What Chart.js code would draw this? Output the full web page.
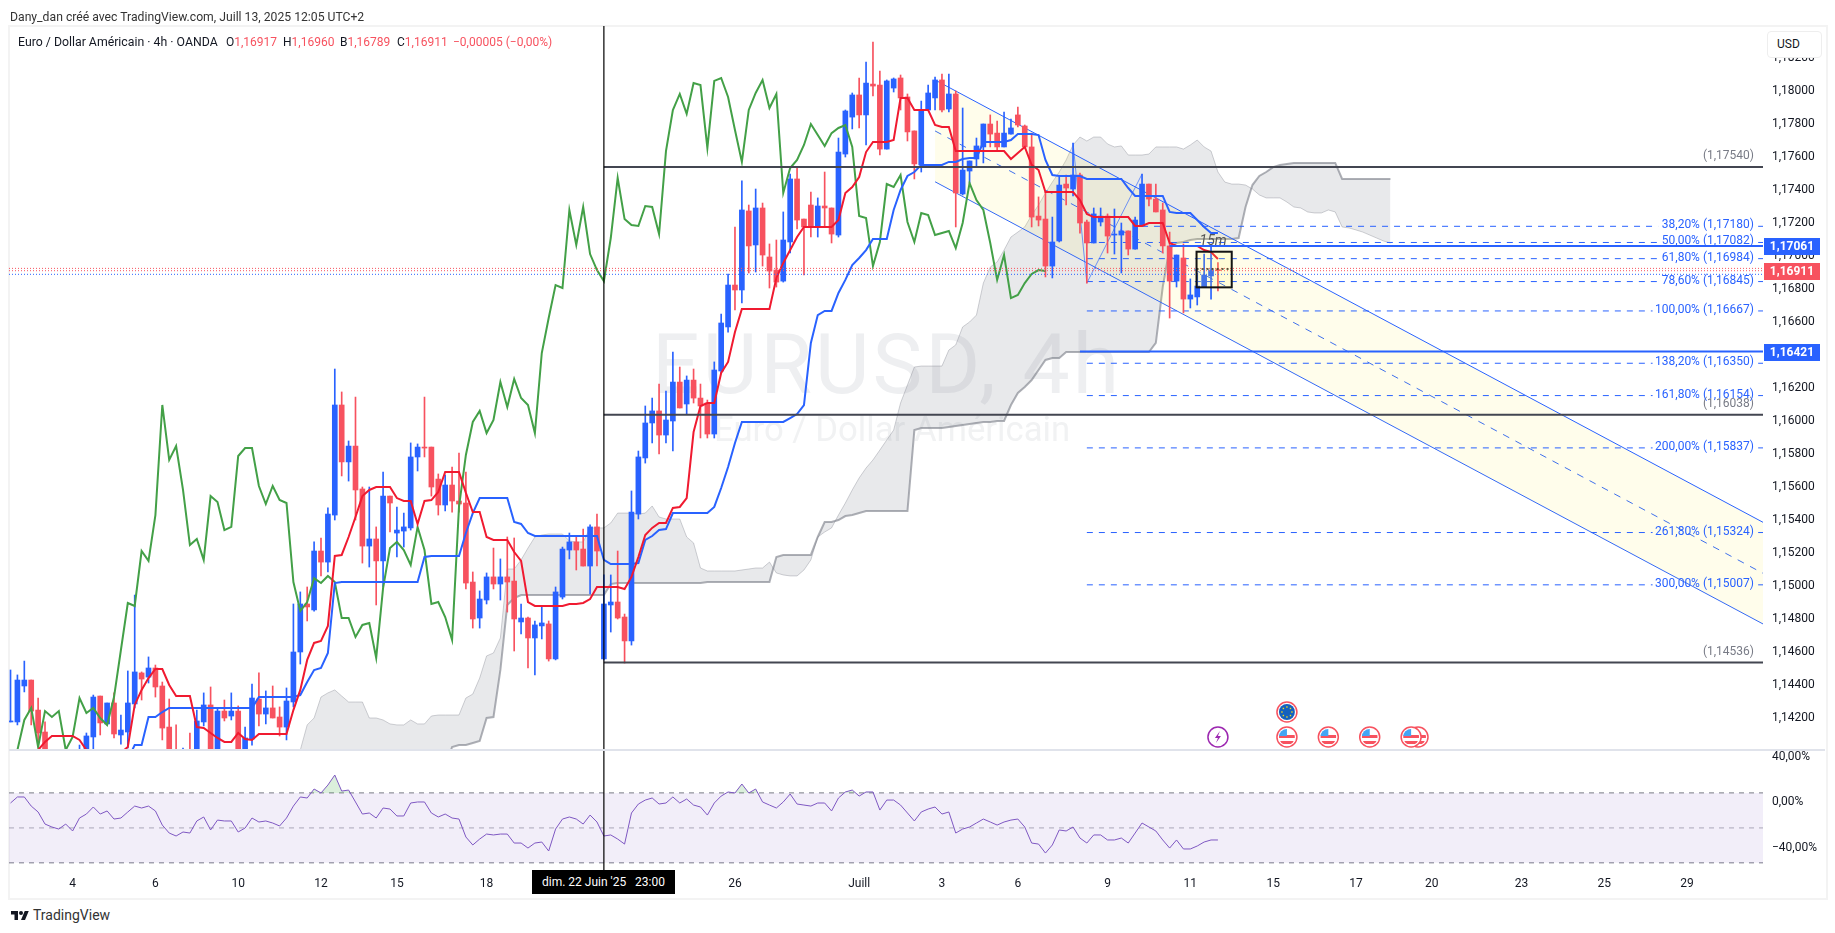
<!DOCTYPE html>
<html>
<head>
<meta charset="utf-8">
<title>EURUSD 4h</title>
<script src="https://cdn.jsdelivr.net/npm/chart.js@4"></script>
<style>
  html, body { margin: 0; padding: 0; background: #fff; width: 1835px; height: 933px; overflow: hidden; }
  body { position: relative; font-family: Roboto, sans-serif; color: #131722; font-size: 12px; }
  canvas { position: absolute; left: 0; }
  .abs { position: absolute; white-space: pre; }
  #frame { left: 8px; top: 25px; width: 1816px; height: 871px; border: 2px solid #f3f3f3; box-sizing: content-box; }
  #sep { left: 9px; top: 749px; width: 1816px; height: 1.5px; background: #e0e3eb; }
  #usd { left: 1767px; top: 31px; width: 53px; height: 25px; background: #fff; border: 1px solid #eeeeee; border-radius: 4px; line-height: 25px; text-indent: 9px; }
  .red { color: #f7525f; }
  #stamp { left: 532px; top: 870px; width: 143px; height: 24px; background: #000; color: #fff; line-height: 24px; text-align: center; }
</style>
</head>
<body>
<div class="abs" id="frame"></div>
<canvas id="main" width="1835" height="750" style="top:0"></canvas>
<canvas id="rsi" width="1835" height="147" style="top:750px"></canvas>
<div class="abs" id="sep"></div>
<div class="abs" style="left:10px;top:10px;color:#333;font-size:12.2px">Dany_dan créé avec TradingView.com, Juill 13, 2025 12:05 UTC+2</div>
<div class="abs" style="left:18px;top:35px;font-size:12.3px">Euro / Dollar Américain · 4h · OANDA</div>
<div class="abs" style="left:226px;top:35px">O<span class="red">1,16917</span></div>
<div class="abs" style="left:283px;top:35px">H<span class="red">1,16960</span></div>
<div class="abs" style="left:340px;top:35px">B<span class="red">1,16789</span></div>
<div class="abs" style="left:397px;top:35px">C<span class="red">1,16911</span></div>
<div class="abs red" style="left:453px;top:35px">−0,00005 (−0,00%)</div>
<div class="abs" id="usd">USD</div>
<div class="abs" id="stamp">dim. 22 Juin '25   23:00</div>
<svg class="abs" style="left:10px;top:909px" width="20" height="14" viewBox="0 0 36 28"><path d="M14 22H7V11H0V4h14v18zM28 22h-8l7.5-18h8L28 22z" fill="#131722"/><circle cx="20" cy="8" r="4" fill="#131722"/></svg>
<div class="abs" style="left:33px;top:907px;font-size:14px;color:#333">TradingView</div>

<script>
// candles, one per 4h bar, 10 per row. blue = up, red = down
const opens = [
  1.14176,1.14176,1.14394,1.14430,1.14248,1.14115,null,null,null,null,
  1.13900,1.13976,1.14085,1.14333,1.14164,1.14291,1.14097,1.14115,1.14285,1.14473,
  1.14448,1.14503,1.14394,1.14145,1.13980,1.13900,1.13980,1.13976,1.14176,1.14279,
  1.13976,1.14242,1.14212,1.14242,1.13976,1.14073,1.14315,1.14224,1.14261,1.14206,
  1.14145,1.14297,1.14600,1.14891,1.14855,1.15212,1.15145,1.15430,1.16097,1.15752,
  1.15848,1.15588,1.15242,1.15285,1.15152,1.15545,1.15321,1.15333,1.15352,1.15782,
  1.15842,1.15842,1.15648,1.15491,1.15612,1.15515,1.15503,1.15024,1.14806,1.14915,
  1.15055,1.15012,1.15055,1.15030,1.14782,1.14806,1.14685,1.14758,1.14770,1.14558,
  1.14933,1.15218,1.15267,1.15224,1.15121,1.15358,1.14558,1.14885,1.14903,1.14812,
  1.14667,1.15436,1.15776,1.15988,1.16061,1.15915,1.16000,1.16236,1.16103,1.16248,
  1.16139,1.16109,1.15921,1.16303,1.16570,1.16824,1.16794,1.17273,1.17067,1.17291,
  1.16994,1.16915,1.16848,1.17085,1.17467,1.17224,1.17309,1.17176,1.17303,1.17291,
  1.17127,1.17618,1.17842,1.17976,1.17855,1.18042,1.18036,1.17648,1.18018,1.18079,
  1.17964,1.17758,1.17552,1.17885,1.17958,1.18067,1.17891,1.17982,1.17376,1.17515,
  1.17588,1.17661,1.17800,1.17745,1.17661,1.17739,1.17855,1.17788,1.17661,1.17242,
  1.17224,1.16939,1.17091,1.17436,1.17406,1.17491,1.17206,1.17079,1.17206,1.17242,
  1.17127,1.17127,1.17152,1.17042,1.17182,1.17436,1.17345,1.17279,1.17061,1.16848,
  1.16988,1.16739,1.16752,1.16812,1.16879,1.16917
];
const highs = [
  1.14491,1.14461,1.14545,1.14430,1.14321,1.14176,null,null,null,null,
  1.14036,1.14109,1.14339,1.14333,1.14291,1.14352,1.14218,1.14485,1.14945,1.14479,
  1.14570,1.14521,1.14418,1.14315,1.14158,1.14018,1.14109,1.14248,1.14352,1.14388,
  1.14261,1.14309,1.14352,1.14273,1.14145,1.14406,1.14473,1.14364,1.14394,1.14267,
  1.14382,1.14891,1.14964,1.14994,1.15267,1.15291,1.15473,1.16315,1.16176,1.15879,
  1.16145,1.15600,1.15600,1.15358,1.15691,1.15545,1.15479,1.15442,1.15867,1.15861,
  1.16145,1.15842,1.15679,1.15673,1.15721,1.15806,1.15691,1.15085,1.14970,1.15079,
  1.15230,1.15164,1.15297,1.15291,1.14891,1.14812,1.14788,1.14873,1.14788,1.14994,
  1.15236,1.15321,1.15297,1.15345,1.15370,1.15436,1.15067,1.15067,1.15212,1.14830,
  1.15576,1.15818,1.16091,1.16139,1.16224,1.16182,1.16418,1.16327,1.16273,1.16315,
  1.16224,1.16127,1.16358,1.16648,1.16891,1.17176,1.17455,1.17309,1.17406,1.17321,
  1.17073,1.17097,1.17267,1.17497,1.17539,1.17224,1.17388,1.17352,1.17509,1.17291,
  1.17715,1.17885,1.17988,1.18079,1.18176,1.18297,1.18121,1.18067,1.18079,1.18097,
  1.17982,1.17758,1.17939,1.18036,1.18085,1.18103,1.18103,1.18000,1.17897,1.17576,
  1.17715,1.17800,1.17855,1.17818,1.17873,1.17830,1.17903,1.17794,1.17745,1.17358,
  1.17388,1.17236,1.17479,1.17491,1.17685,1.17503,1.17218,1.17291,1.17291,1.17255,
  1.17285,1.17200,1.17152,1.17236,1.17497,1.17436,1.17436,1.17321,1.17145,1.17006,
  1.17073,1.16861,1.16897,1.17012,1.17073,1.16960
];
const lows = [
  1.14176,1.14158,1.14358,1.14158,1.14024,1.13945,null,null,null,null,
  1.13850,1.13945,1.14006,1.14097,1.14158,1.14079,1.14042,1.14018,1.14261,1.14309,
  1.14412,1.14327,1.14067,1.13900,1.13850,1.13850,1.13850,1.13900,1.14152,1.13900,
  1.13900,1.14182,1.14188,1.13900,1.13900,1.14036,1.14152,1.14164,1.14200,1.14091,
  1.14067,1.14267,1.14527,1.14788,1.14848,1.15061,1.15085,1.15400,1.15667,1.15636,
  1.15400,1.15139,1.15115,1.14885,1.14994,1.15327,1.15176,1.15236,1.15339,1.15697,
  1.15782,1.15545,1.15430,1.15455,1.15448,1.15448,1.14982,1.14745,1.14745,1.14891,
  1.14982,1.14915,1.14842,1.14606,1.14709,1.14503,1.14461,1.14679,1.14545,1.14552,
  1.14921,1.15164,1.15097,1.15121,1.14952,1.15121,1.14552,1.14721,1.14800,1.14533,
  1.14642,1.15406,1.15745,1.15867,1.15800,1.15867,1.15818,1.16079,1.16042,1.16109,
  1.15897,1.15897,1.15897,1.16291,1.16539,1.16673,1.16715,1.16897,1.16903,1.16939,
  1.16806,1.16812,1.16842,1.17018,1.17164,1.16885,1.17115,1.17115,1.17176,1.17079,
  1.17115,1.17600,1.17770,1.17776,1.17673,1.17970,1.17612,1.17648,1.17994,1.17885,
  1.17697,1.17467,1.17509,1.17885,1.17885,1.17873,1.17873,1.17176,1.17370,1.17442,
  1.17539,1.17564,1.17661,1.17642,1.17661,1.17739,1.17782,1.17661,1.17176,1.17182,
  1.16873,1.16867,1.17085,1.17309,1.17364,1.17139,1.16836,1.17079,1.17182,1.17018,
  1.17012,1.16897,1.17006,1.17042,1.17182,1.17303,1.17267,1.17018,1.16624,1.16812,
  1.16655,1.16685,1.16703,1.16812,1.16739,1.16789
];
const closes = [
  1.14182,1.14430,1.14430,1.14242,1.14109,1.13976,null,null,null,null,
  1.13960,1.14091,1.14327,1.14170,1.14291,1.14103,1.14127,1.14291,1.14479,1.14436,
  1.14503,1.14388,1.14139,1.13976,1.13900,1.13960,1.13900,1.14182,1.14279,1.13976,
  1.14242,1.14200,1.14242,1.13976,1.14079,1.14321,1.14224,1.14261,1.14200,1.14145,
  1.14303,1.14600,1.14891,1.14873,1.15212,1.15145,1.15436,1.16097,1.15752,1.15848,
  1.15582,1.15242,1.15285,1.15152,1.15545,1.15503,1.15339,1.15358,1.15782,1.15842,
  1.15836,1.15600,1.15491,1.15612,1.15515,1.15497,1.15018,1.14800,1.14921,1.15055,
  1.15012,1.15055,1.15024,1.14800,1.14806,1.14685,1.14764,1.14776,1.14558,1.14964,
  1.15224,1.15267,1.15218,1.15121,1.15358,1.15212,1.14891,1.14903,1.14806,1.14667,
  1.15448,1.15782,1.15988,1.16061,1.15915,1.16006,1.16236,1.16079,1.16248,1.16139,
  1.16091,1.15921,1.16309,1.16594,1.16824,1.16794,1.17279,1.17061,1.17291,1.17006,
  1.16909,1.16842,1.17097,1.17467,1.17218,1.17176,1.17176,1.17303,1.17291,1.17133,
  1.17630,1.17879,1.17976,1.17855,1.18048,1.18030,1.17648,1.18061,1.18073,1.17958,
  1.17752,1.17558,1.17885,1.17988,1.18067,1.17885,1.17982,1.17382,1.17521,1.17576,
  1.17667,1.17800,1.17739,1.17661,1.17745,1.17776,1.17794,1.17661,1.17236,1.17218,
  1.16939,1.17085,1.17430,1.17412,1.17491,1.17200,1.17079,1.17255,1.17242,1.17121,
  1.17133,1.17152,1.17042,1.17218,1.17436,1.17345,1.17267,1.17061,1.16848,1.17006,
  1.16739,1.16764,1.16818,1.16885,1.16915,1.16911
];

// ichimoku lines
const tenkan = [
  null,null,null,null,1.14006,1.14055,1.14091,1.14091,1.14091,1.14091,
  1.14067,1.14006,1.13900,1.13900,1.13900,1.13900,1.13990,1.14024,1.14279,1.14370,
  1.14442,1.14497,1.14497,1.14400,1.14333,1.14333,1.14333,1.14145,1.14139,1.14109,
  1.14079,1.14055,1.14055,1.14109,1.14073,1.14067,1.14103,1.14103,1.14103,1.14103,
  1.14103,1.14248,1.14370,1.14552,1.14655,1.14667,1.14758,1.15182,1.15188,1.15297,
  1.15418,1.15545,1.15582,1.15600,1.15600,1.15600,1.15533,1.15515,1.15515,1.15376,
  1.15515,1.15521,1.15570,1.15691,1.15691,1.15691,1.15564,1.15448,1.15448,1.15297,
  1.15279,1.15279,1.15279,1.15206,1.15152,1.14903,1.14879,1.14879,1.14879,1.14879,
  1.14879,1.14891,1.14891,1.14897,1.14921,1.14994,1.14994,1.14994,1.14994,1.14982,
  1.15055,1.15176,1.15309,1.15352,1.15382,1.15382,1.15473,1.15479,1.15533,1.15933,
  1.16091,1.16109,1.16109,1.16291,1.16358,1.16539,1.16679,1.16679,1.16679,1.16679,
  1.16679,1.16867,1.16958,1.17036,1.17115,1.17176,1.17176,1.17176,1.17176,1.17176,
  1.17218,1.17382,1.17418,1.17479,1.17630,1.17691,1.17691,1.17691,1.17703,1.17958,
  1.17958,1.17885,1.17885,1.17885,1.17794,1.17782,1.17782,1.17636,1.17636,1.17636,
  1.17636,1.17636,1.17636,1.17636,1.17636,1.17588,1.17624,1.17661,1.17552,1.17521,
  1.17388,1.17388,1.17388,1.17388,1.17388,1.17339,1.17255,1.17236,1.17236,1.17236,
  1.17236,1.17236,1.17236,1.17182,1.17182,1.17200,1.17200,1.17200,1.17079,1.17061,
  1.17061,1.17061,1.17061,1.17036,1.17024,1.16982
];
const kijun = [
  null,null,null,null,null,null,null,null,null,null,
  null,null,null,null,null,null,null,1.13950,1.14036,1.14036,
  1.14206,1.14206,1.14236,1.14261,1.14261,1.14261,1.14261,1.14261,1.14261,1.14261,
  1.14261,1.14261,1.14261,1.14261,1.14261,1.14261,1.14327,1.14327,1.14327,1.14327,
  1.14327,1.14327,1.14339,1.14418,1.14491,1.14503,1.14594,1.15018,1.15024,1.15024,
  1.15024,1.15024,1.15024,1.15024,1.15024,1.15024,1.15024,1.15024,1.15024,1.15024,
  1.15176,1.15182,1.15182,1.15182,1.15182,1.15182,1.15321,1.15442,1.15533,1.15533,
  1.15533,1.15533,1.15533,1.15388,1.15376,1.15321,1.15303,1.15303,1.15303,1.15303,
  1.15303,1.15303,1.15303,1.15303,1.15303,1.15303,1.15158,1.15133,1.15133,1.15133,
  1.15133,1.15139,1.15279,1.15303,1.15339,1.15345,1.15442,1.15442,1.15442,1.15442,
  1.15442,1.15442,1.15479,1.15594,1.15721,1.15867,1.15994,1.15994,1.15994,1.15994,
  1.15994,1.15994,1.15994,1.16018,1.16042,1.16097,1.16473,1.16642,1.16667,1.16667,
  1.16776,1.16855,1.16945,1.16988,1.17036,1.17103,1.17103,1.17103,1.17279,1.17400,
  1.17485,1.17509,1.17552,1.17552,1.17552,1.17552,1.17570,1.17570,1.17588,1.17594,
  1.17594,1.17691,1.17691,1.17691,1.17691,1.17703,1.17739,1.17739,1.17739,1.17733,
  1.17582,1.17491,1.17485,1.17485,1.17485,1.17485,1.17467,1.17467,1.17467,1.17467,
  1.17467,1.17467,1.17412,1.17364,1.17364,1.17364,1.17364,1.17364,1.17267,1.17261,
  1.17261,1.17261,1.17218,1.17176,1.17139,1.17139
];
const chikou = [
  null,1.14006,1.14188,1.14261,1.14024,1.14242,1.14206,1.14242,1.14006,1.14085,
  1.14321,1.14230,1.14261,1.14200,1.14158,1.14327,1.14612,1.14897,1.14879,1.15212,
  1.15152,1.15430,1.16097,1.15764,1.15848,1.15582,1.15248,1.15285,1.15158,1.15545,
  1.15509,1.15339,1.15358,1.15788,1.15836,1.15836,1.15606,1.15497,1.15606,1.15521,
  1.15503,1.15024,1.14848,1.14903,1.15048,1.15018,1.15061,1.15024,1.14806,1.14806,
  1.14691,1.14764,1.14776,1.14564,1.14988,1.15230,1.15267,1.15218,1.15127,1.15358,
  1.15218,1.14891,1.14903,1.14812,1.14673,1.15479,1.15794,1.15994,1.16061,1.15927,
  1.16006,1.16236,1.16085,1.16255,1.16139,1.16097,1.15927,1.16412,1.16624,1.16824,
  1.16806,1.17279,1.17067,1.17297,1.17012,1.16915,1.16848,1.17109,1.17473,1.17224,
  1.17188,1.17182,1.17303,1.17297,1.17133,1.17636,1.17885,1.17982,1.17861,1.18048,
  1.18036,1.17655,1.18061,1.18079,1.17964,1.17764,1.17570,1.17885,1.17988,1.18067,
  1.17897,1.17982,1.17382,1.17533,1.17582,1.17673,1.17800,1.17733,1.17667,1.17745,
  1.17776,1.17794,1.17661,1.17242,1.17230,1.16939,1.17085,1.17436,1.17418,1.17491,
  1.17206,1.17085,1.17261,1.17248,1.17127,1.17139,1.17152,1.17048,1.17200,1.17442,
  1.17339,1.17279,1.17079,1.16855,1.17006,1.16745,1.16764,1.16836,1.16891,1.16915,1.16909
];

// the cloud starts at bar 42 and runs past the last candle
const senkouStart = 42;
const senkouA = [
  1.14006,1.14158,1.14200,1.14327,1.14352,1.14370,1.14333,1.14297,
  1.14297,1.14297,1.14200,1.14200,1.14188,1.14164,1.14158,1.14158,1.14188,1.14164,
  1.14164,1.14212,1.14218,1.14218,1.14218,1.14218,1.14321,1.14345,1.14442,1.14576,
  1.14594,1.14685,1.15103,1.15103,1.15158,1.15230,1.15297,1.15309,1.15315,1.15315,
  1.15315,1.15273,1.15267,1.15267,1.15352,1.15352,1.15352,1.15382,1.15442,1.15442,
  1.15442,1.15436,1.15442,1.15485,1.15418,1.15406,1.15406,1.15406,1.15297,1.15261,
  1.15109,1.15091,1.15091,1.15091,1.15091,1.15091,1.15097,1.15103,1.15109,1.15109,
  1.15145,1.15079,1.15067,1.15061,1.15061,1.15097,1.15158,1.15297,1.15327,1.15352,
  1.15430,1.15503,1.15582,1.15655,1.15715,1.15764,1.15824,1.15885,1.15945,1.16109,
  1.16218,1.16327,1.16333,1.16333,1.16333,1.16333,1.16430,1.16461,1.16570,1.16600,
  1.16642,1.16836,1.16933,1.16964,1.17036,1.17115,1.17145,1.17176,1.17248,1.17309,
  1.17382,1.17448,1.17509,1.17582,1.17673,1.17721,1.17697,1.17721,1.17721,1.17679,
  1.17661,1.17667,1.17612,1.17612,1.17612,1.17618,1.17661,1.17661,1.17661,1.17661,
  1.17648,1.17673,1.17703,1.17661,1.17636,1.17509,1.17448,1.17436,1.17436,1.17430,
  1.17406,1.17370,1.17352,1.17352,1.17352,1.17327,1.17297,1.17291,1.17267,1.17261,
  1.17261,1.17279,1.17267,1.17176,1.17170,1.17158,1.17145,1.17127,1.17109,1.17091,1.17079
];
const senkouB = [
  1.13900,1.13900,1.13900,1.13900,1.13900,1.13900,1.13900,1.13900,
  1.13900,1.13900,1.13900,1.13900,1.13900,1.13900,1.13900,1.13900,1.13900,1.13900,
  1.13900,1.13900,1.13900,1.13900,1.14024,1.14036,1.14036,1.14048,1.14061,1.14200,
  1.14206,1.14491,1.14885,1.14927,1.14945,1.14945,1.14945,1.14945,1.14945,1.14945,
  1.14945,1.14945,1.14945,1.14945,1.14945,1.14945,1.14945,1.15012,1.15018,1.15018,
  1.15018,1.15018,1.15018,1.15018,1.15018,1.15018,1.15018,1.15018,1.15018,1.15018,
  1.15018,1.15024,1.15024,1.15024,1.15024,1.15024,1.15024,1.15024,1.15024,1.15024,
  1.15024,1.15176,1.15188,1.15188,1.15188,1.15188,1.15188,1.15297,1.15388,1.15388,
  1.15400,1.15424,1.15430,1.15442,1.15455,1.15455,1.15455,1.15455,1.15455,1.15455,
  1.15455,1.15945,1.15958,1.15958,1.15958,1.15958,1.15964,1.15970,1.15976,1.15982,
  1.15988,1.15994,1.15994,1.16000,1.16000,1.16097,1.16170,1.16206,1.16248,1.16309,
  1.16370,1.16382,1.16382,1.16418,1.16418,1.16418,1.16418,1.16418,1.16418,1.16418,
  1.16418,1.16418,1.16418,1.16418,1.16418,1.16418,1.16473,1.16812,1.17048,1.17079,
  1.17085,1.17097,1.17103,1.17103,1.17103,1.17103,1.17103,1.17103,1.17109,1.17297,
  1.17430,1.17485,1.17509,1.17539,1.17552,1.17558,1.17564,1.17564,1.17564,1.17564,
  1.17564,1.17564,1.17564,1.17467,1.17467,1.17467,1.17467,1.17467,1.17467,1.17467,1.17467
];

// lower pane oscillator
const rsiValues = [
  -0.6,4.7,4.7,-3.3,-8.5,-19.1,-21.7,-23.5,-19.1,-25.2,
  -13.8,-10.3,-4.1,-10.3,-7.6,-14.7,-13.8,-8.5,-3.3,-5.0,
  -3.3,-7.6,-20.0,-27.0,-29.6,-26.1,-27.0,-16.4,-12.9,-24.3,
  -15.6,-16.4,-16.4,-26.1,-22.6,-13.8,-17.3,-16.4,-18.2,-20.8,
  -13.8,-3.3,4.7,3.8,11.7,8.2,15.2,24.0,9.9,10.8,
  0.3,-10.3,-9.4,-13.8,-5.0,-5.9,-12.0,-12.0,-0.6,0.3,
  0.3,-9.4,-12.9,-10.3,-13.8,-14.7,-30.5,-37.5,-32.3,-27.9,
  -28.7,-27.9,-27.9,-35.8,-35.8,-40.2,-35.8,-34.9,-42.8,-23.5,
  -14.7,-12.9,-14.7,-19.1,-11.2,-17.3,-29.6,-28.7,-32.3,-36.7,
  -9.4,-1.5,2.0,3.8,-1.5,-0.6,4.7,-0.6,2.9,-2.4,
  -4.1,-11.2,-0.6,5.5,9.1,8.2,16.1,8.2,11.7,0.3,
  -2.4,-5.0,0.3,7.3,-1.5,-2.4,-3.3,-0.6,-0.6,-7.6,
  3.8,9.1,10.8,5.5,9.1,9.1,-6.8,2.0,2.0,-2.4,
  -9.4,-16.4,-8.5,-5.9,-4.1,-10.3,-8.5,-27.0,-23.5,-21.7,
  -18.2,-14.7,-17.3,-20.0,-17.3,-15.6,-14.7,-21.7,-35.8,-36.7,
  -44.6,-37.5,-24.3,-25.2,-21.7,-31.4,-35.8,-28.7,-28.7,-33.1,
  -33.1,-31.4,-35.8,-27.0,-18.2,-21.7,-25.2,-33.1,-40.2,-33.1,
  -41.0,-41.0,-38.4,-34.9,-33.1,-33.1
];
const rsiBands = [8.3, -22.5, -53.2];

// axes
const xMin = -0.22, xMax = 254;
const priceMin = 1.14006, priceMax = 1.18394;
const rsiMin = -59.5, rsiMax = 46;
const priceTicks = [1.142,1.144,1.146,1.148,1.15,1.152,1.154,1.156,1.158,1.16,1.162,1.164,1.166,1.168,1.17,1.172,1.174,1.176,1.178,1.18,1.182];
const rsiTicks = [40, 0, -40];
const timeTickBars = [9,21,33,45,56,69,105,123,135,146,159,171,183,195,206,219,231,243];
const timeTickLabels = ['4','6','10','12','15','18','26','Juill','3','6','9','11','15','17','20','23','25','29'];
const crosshairBar = 86;

// horizontal levels and drawings
const blackLevels = [1.1754, 1.16038, 1.14536];
const blackLabels = ['(1,17540)', '(1,16038)', '(1,14536)'];
const blueLevels = [1.17061, 1.16421];
const blueLevelStart = [168, 155];
const quoteLines = [1.16925, 1.16911, 1.16889];
const quoteColors = ['#f7525f', '#f7525f', '#2962ff'];
const fibLevels = [1.1718,1.17082,1.16984,1.16845,1.16667,1.1635,1.16154,1.15837,1.15324,1.15007];
const fibLabels = ['38,20% (1,17180)','50,00% (1,17082)','61,80% (1,16984)','78,60% (1,16845)','100,00% (1,16667)','138,20% (1,16350)','161,80% (1,16154)','200,00% (1,15837)','261,80% (1,15324)','300,00% (1,15007)'];
const fibStart = [164,156,156,156,156,156,156,156,156,156];
const fibGapFrom = [238.8,238.8,238.8,238.8,238,238,238,238,238,238];
const fibGapTo = 253.3;
const channelBars = [134, 254];
const channelUpper = [1.18067, 1.15386];
const channelMiddle = [1.17758, 1.15077];
const channelLower = [1.1745, 1.1477];
const zigzagBars = [154, 156, 164];
const zigzagPrices = [1.17685, 1.16836, 1.17497];
const boxBars = [171.9, 177];
const boxPrices = [1.17026, 1.1681];
const boxDotted = 1.16921;
const eventBars = [175, 185, 185, 191, 197, 204, 203];
const eventKinds = ['flash', 'eu', 'us', 'us', 'us', 'us', 'us'];
const eventRows = [0, 1, 0, 0, 0, 0, 0];

const BLUE = '#2962ff', RED = '#f7525f';
const fmt = v => v.toFixed(5).replace('.', ',');
const candleBars = opens.map((o, i) => i).filter(i => opens[i] !== null);
const candleColors = candleBars.map(i => closes[i] >= opens[i] ? BLUE : RED);
const toPoints = (vals, start = 0) => vals.map((y, i) => ({ x: i + start, y }));
const lineDs = (data, color, width, order, extra = {}) => Object.assign({
  type: 'line', data, borderColor: color, borderWidth: width, order,
  pointRadius: 0, tension: 0, fill: false, spanGaps: false
}, extra);
const span = (from, to, y) => [{ x: from, y }, { x: to, y }];
// no room reserved for half a tick label above and below the pane
const fitY = s => { s.width = 72; s.paddingTop = 0; s.paddingBottom = 0; };

const wmPlugin = {
  id: 'watermark',
  beforeDatasetsDraw(c) {
    const g = c.ctx;
    g.save();
    g.textBaseline = 'alphabetic';
    g.textAlign = 'left';
    g.fillStyle = '#eeeff1';
    g.font = '84px Roboto, sans-serif';
    g.letterSpacing = '3px';
    g.fillText('EURUSD, 4h', 652, 393);
    g.letterSpacing = '0px';
    g.fillStyle = '#f1f2f3';
    g.font = '34.7px Roboto, sans-serif';
    g.fillText('Euro / Dollar Américain', 714, 441);
    g.restore();
  }
};

function drawEvent(g, x, y, kind) {
  const ring = kind === 'flash' ? '#9c27b0' : '#f7525f';
  g.save();
  g.beginPath(); g.arc(x, y, 10, 0, Math.PI * 2);
  g.fillStyle = '#fff'; g.fill();
  g.lineWidth = 1.5; g.strokeStyle = ring; g.stroke();
  if (kind === 'flash') {
    g.fillStyle = ring;
    g.beginPath();
    g.moveTo(x + 2, y - 6); g.lineTo(x - 3, y + 1); g.lineTo(x, y + 1);
    g.lineTo(x - 2, y + 6); g.lineTo(x + 3, y - 1); g.lineTo(x, y - 1);
    g.closePath(); g.fill();
  } else {
    g.beginPath(); g.arc(x, y, 8, 0, Math.PI * 2); g.clip();
    if (kind === 'eu') {
      g.fillStyle = '#1560bd'; g.fillRect(x - 8, y - 8, 16, 16);
      g.fillStyle = '#f7d917';
      for (let a = 0; a < 8; a++) {
        g.fillRect(x + 5 * Math.cos(a * Math.PI / 4) - 0.7, y + 5 * Math.sin(a * Math.PI / 4) - 0.7, 1.4, 1.4);
      }
    } else {
      g.fillStyle = '#f7525f';
      g.fillRect(x - 8, y - 2, 16, 3);
      g.fillRect(x - 8, y + 4, 16, 3);
      g.fillStyle = '#42a5f5';
      g.fillRect(x - 8, y - 8, 8, 7);
    }
  }
  g.restore();
}

const mainOverlay = {
  id: 'mainOverlay',
  afterDatasetsDraw(c) {
    const g = c.ctx, xs = c.scales.x, ys = c.scales.y;
    // box around the last candles
    const bx = xs.getPixelForValue(boxBars[0]), bx2 = xs.getPixelForValue(boxBars[1]);
    const by = ys.getPixelForValue(boxPrices[0]), by2 = ys.getPixelForValue(boxPrices[1]);
    g.save();
    g.fillStyle = 'rgba(255,235,59,0.12)';
    g.fillRect(bx, by, bx2 - bx, by2 - by);
    g.lineWidth = 2; g.strokeStyle = '#131313';
    g.strokeRect(bx, by, bx2 - bx, by2 - by);
    g.font = 'italic 14px Roboto, sans-serif';
    g.fillStyle = '#555'; g.textAlign = 'center'; g.textBaseline = 'middle';
    g.fillText('15m', xs.getPixelForValue(174.3), by - 10);

    g.font = '12px Roboto, sans-serif';
    g.textAlign = 'right';
    const labelX = c.chartArea.right - 9;
    g.fillStyle = '#787b86';
    blackLevels.forEach((p, i) => g.fillText(blackLabels[i], labelX, ys.getPixelForValue(p) - 11));
    g.fillStyle = '#2962ff';
    fibLevels.forEach((p, i) => g.fillText(fibLabels[i], labelX, ys.getPixelForValue(p) - 1));

    eventBars.forEach((b, i) => drawEvent(g, xs.getPixelForValue(b), c.chartArea.bottom - 13 - eventRows[i] * 25, eventKinds[i]));
    g.restore();
  },
  afterDraw(c) {
    const g = c.ctx, ys = c.scales.y;
    const tag = (p, color) => {
      const y = ys.getPixelForValue(p);
      g.fillStyle = color;
      g.fillRect(1764, Math.round(y) - 8, 56, 17);
      g.fillStyle = '#fff';
      g.font = 'bold 12px Roboto, sans-serif';
      g.textAlign = 'center'; g.textBaseline = 'middle';
      g.fillText(fmt(p), 1792, y + 1);
    };
    g.save();
    blueLevels.forEach(p => tag(p, BLUE));
    tag(quoteLines[1], RED);
    g.restore();
  }
};

new Chart(document.getElementById('main'), {
  type: 'bar',
  data: {
    datasets: [
      { label: 'wick', data: candleBars.map(i => ({ x: i, y: [lows[i], highs[i]] })), backgroundColor: candleColors, barThickness: 1, grouped: false, order: 6 },
      { label: 'body', data: candleBars.map(i => ({ x: i, y: [opens[i], closes[i]] })), backgroundColor: candleColors, barThickness: 5, minBarLength: 1, grouped: false, order: 5 },
      lineDs(toPoints(tenkan), '#f01a30', 2, 3),
      lineDs(toPoints(kijun), BLUE, 2, 3),
      lineDs(toPoints(chikou), '#43a047', 2, 3),
      // cloud, the first one fills down to the next dataset
      lineDs(toPoints(senkouA, senkouStart), 'rgba(120,123,134,0.35)', 1, 9, { fill: { target: '+1', above: 'rgba(120,123,134,0.17)', below: 'rgba(120,123,134,0.17)' } }),
      lineDs(toPoints(senkouB, senkouStart), 'rgba(120,123,134,0.6)', 2, 9),
      // channel
      lineDs(channelBars.map((x, i) => ({ x, y: channelUpper[i] })), BLUE, 1, 8, { fill: { target: '+2', above: 'rgba(255,235,59,0.1)', below: 'rgba(255,235,59,0.1)' } }),
      lineDs(channelBars.map((x, i) => ({ x, y: channelMiddle[i] })), BLUE, 1, 8, { borderDash: [7, 7] }),
      lineDs(channelBars.map((x, i) => ({ x, y: channelLower[i] })), BLUE, 1, 8),
      lineDs(zigzagBars.map((x, i) => ({ x, y: zigzagPrices[i] })), 'rgba(41,98,255,0.65)', 1, 7),
      ...fibLevels.map((p, i) => lineDs(
        [{ x: fibStart[i], y: p }, { x: fibGapFrom[i], y: p }, { x: fibGapFrom[i], y: null }, { x: fibGapTo, y: p }, { x: xMax, y: p }],
        BLUE, 1, 7, { borderDash: [6, 6] })),
      ...blackLevels.map(p => lineDs(span(crosshairBar, xMax, p), '#434651', 2, 2)),
      ...blueLevels.map((p, i) => lineDs(span(blueLevelStart[i], xMax, p), BLUE, 2, 2)),
      ...quoteLines.map((p, i) => lineDs(span(xMin, xMax, p), quoteColors[i], 1, 2, { borderDash: [1, 2] })),
      lineDs(span(boxBars[0], boxBars[1], boxDotted), '#131313', 1.5, 1, { borderDash: [2, 3] }),
      lineDs([{ x: crosshairBar, y: priceMin }, { x: crosshairBar, y: priceMax }], '#000', 1.2, 0)
    ]
  },
  options: {
    responsive: false,
    animation: false,
    layout: { padding: { left: 9, top: 26, right: 0, bottom: 0 } },
    plugins: { legend: { display: false }, tooltip: { enabled: false } },
    scales: {
      x: { type: 'linear', display: false, offset: false, min: xMin, max: xMax },
      y: {
        position: 'right', min: priceMin, max: priceMax,
        grid: { display: false, drawTicks: false }, border: { display: false },
        afterBuildTicks: s => { s.ticks = priceTicks.map(value => ({ value })); },
        afterFit: fitY,
        ticks: { padding: 9, color: '#131722', font: { family: 'Roboto, sans-serif', size: 12 }, callback: v => fmt(v), autoSkip: false }
      }
    }
  },
  plugins: [wmPlugin, mainOverlay]
});

new Chart(document.getElementById('rsi'), {
  type: 'line',
  data: {
    datasets: [
      lineDs(span(xMin, xMax, rsiBands[0]), '#787b86', 1, 5, { borderDash: [5, 5], fill: { target: '+2', above: 'rgba(126,87,194,0.1)', below: 'rgba(126,87,194,0.1)' } }),
      lineDs(span(xMin, xMax, rsiBands[1]), 'rgba(120,123,134,0.6)', 1, 5, { borderDash: [5, 5] }),
      lineDs(span(xMin, xMax, rsiBands[2]), '#787b86', 1, 5, { borderDash: [5, 5] }),
      lineDs(toPoints(rsiValues), '#7e57c2', 1, 2, { fill: { target: { value: rsiBands[0] }, above: 'rgba(76,175,80,0.2)', below: 'rgba(0,0,0,0)' } }),
      lineDs([{ x: crosshairBar, y: rsiMin }, { x: crosshairBar, y: rsiMax }], '#000', 1.2, 0)
    ]
  },
  options: {
    responsive: false,
    animation: false,
    layout: { padding: { left: 9, top: 0, right: 0, bottom: 0 } },
    plugins: { legend: { display: false }, tooltip: { enabled: false } },
    scales: {
      x: {
        type: 'linear', min: xMin, max: xMax,
        grid: { display: false, drawTicks: false }, border: { display: false },
        afterBuildTicks: s => { s.ticks = timeTickBars.map(value => ({ value })); },
        afterFit: s => { s.height = 27; },
        ticks: {
          padding: 7, maxRotation: 0, autoSkip: false, color: '#131722',
          font: { family: 'Roboto, sans-serif', size: 12 },
          callback: v => timeTickLabels[timeTickBars.indexOf(v)]
        }
      },
      y: {
        position: 'right', min: rsiMin, max: rsiMax,
        grid: { display: false, drawTicks: false }, border: { display: false },
        afterBuildTicks: s => { s.ticks = rsiTicks.map(value => ({ value })); },
        afterFit: fitY,
        ticks: {
          padding: 9, color: '#131722', font: { family: 'Roboto, sans-serif', size: 12 },
          callback: v => (v < 0 ? '−' : '') + Math.abs(v).toFixed(2).replace('.', ',') + '%'
        }
      }
    }
  }
});
</script>
</body>
</html>
